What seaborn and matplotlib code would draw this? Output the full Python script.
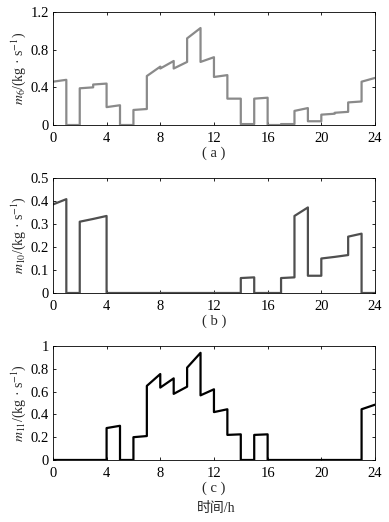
import numpy as np
import pandas as pd
import matplotlib
matplotlib.use("Agg")
import matplotlib.pyplot as plt
import seaborn as sns

sns.set_theme(style="ticks")
plt.rcParams["font.family"] = ["Liberation Serif", "Noto Sans CJK SC"]
plt.rcParams["mathtext.fontset"] = "stix"

# start / end value of each hourly segment, hours 0..23
horas = list(range(24))

m6_ini = [0.46, 0, 0.39, 0.43, 0.19, 0, 0.16, 0.52, 0.60, 0.60, 0.92, 0.67,
          0.51, 0.28, 0.01, 0.28, 0, 0.01, 0.15, 0.04, 0.11, 0.13, 0.24, 0.46]
m6_fim = [0.48, 0, 0.40, 0.44, 0.21, 0, 0.17, 0.62, 0.68, 0.67, 1.03, 0.72,
          0.53, 0.28, 0.01, 0.29, 0, 0.01, 0.18, 0.04, 0.12, 0.14, 0.25, 0.50]

m10_ini = [0.385, 0, 0.31, 0.322, 0, 0, 0, 0, 0, 0, 0, 0,
           0, 0, 0.065, 0, 0, 0.065, 0.335, 0.075, 0.15, 0.157, 0.245, 0]
m10_fim = [0.408, 0, 0.322, 0.335, 0, 0, 0, 0, 0, 0, 0, 0,
           0, 0, 0.068, 0, 0, 0.068, 0.372, 0.075, 0.157, 0.165, 0.258, 0]

m11_ini = [0, 0, 0, 0, 0.28, 0, 0.20, 0.65, 0.635, 0.58, 0.81, 0.567,
           0.42, 0.22, 0, 0.22, 0, 0, 0, 0, 0, 0, 0, 0.445]
m11_fim = [0, 0, 0, 0, 0.30, 0, 0.21, 0.754, 0.716, 0.643, 0.94, 0.62,
           0.445, 0.225, 0, 0.225, 0, 0, 0, 0, 0, 0, 0, 0.485]


def montar(ini, fim):
    linhas = []
    for h, a, b in zip(horas, ini, fim):
        linhas.append((h, a))
        linhas.append((h + 1, b))
    return pd.DataFrame(linhas, columns=["hora", "valor"])


paineis = [
    (montar(m6_ini, m6_fim), "#8a8a8a", r"$m_6$/(kg · s$^{-1}$)", "( a )",
     [0, 0.4, 0.8, 1.2], ["0", "0.4", "0.8", "1.2"], 1.2,
     [0.136, 0.7605, 0.828, 0.2165]),
    (montar(m10_ini, m10_fim), "#4f4f4f", r"$m_{10}$/(kg · s$^{-1}$)", "( b )",
     [0, 0.1, 0.2, 0.3, 0.4, 0.5], ["0", "0.1", "0.2", "0.3", "0.4", "0.5"], 0.5,
     [0.136, 0.4387, 0.828, 0.2203]),
    (montar(m11_ini, m11_fim), "#000000", r"$m_{11}$/(kg · s$^{-1}$)", "( c )",
     [0, 0.2, 0.4, 0.6, 0.8, 1], ["0", "0.2", "0.4", "0.6", "0.8", "1"], 1.0,
     [0.136, 0.1188, 0.828, 0.2184]),
]

fig = plt.figure(figsize=(3.89, 5.22), dpi=100)

for df, cor, ylab, letra, yt, ytl, ymax, pos in paineis:
    ax = fig.add_axes(pos)
    sns.lineplot(data=df, x="hora", y="valor", ax=ax, color=cor, lw=1.6,
                 sort=False, estimator=None)
    ax.set_xlim(0, 24)
    ax.set_ylim(0, ymax)
    ax.set_xticks([0, 4, 8, 12, 16, 20, 24])
    ax.set_xticklabels(["0", "4", "8", "12", "16", "20", "24"])
    ax.set_yticks(yt)
    ax.set_yticklabels(ytl)
    ax.tick_params(direction="in", length=2.5, width=0.6, labelsize=10.5,
                   top=True, right=True, pad=3, colors="black")
    ax.tick_params(axis="x", pad=5)
    for s in ax.spines.values():
        s.set_linewidth(0.6)
        s.set_color("black")
        s.set_visible(True)
    ax.set_xlabel(letra, fontsize=10.5, labelpad=1)
    ax.set_ylabel(ylab, fontsize=10, labelpad=2)

fig.text(0.555, 0.025, "时间/h", ha="center", va="center", fontsize=10)

fig.savefig("out.png", dpi=100)
